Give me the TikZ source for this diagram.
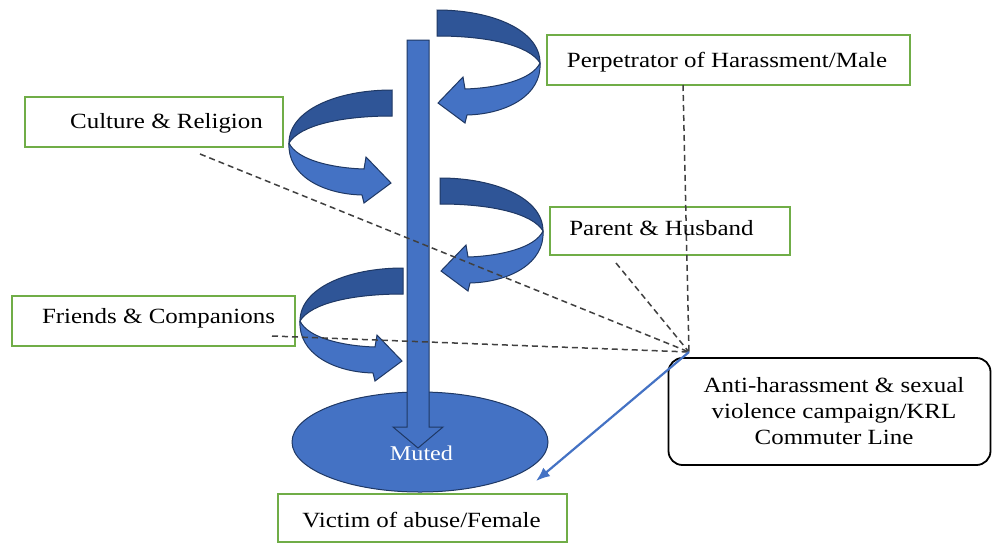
\documentclass[tikz,border=0pt]{standalone}
\usepackage{fontspec}
\setmainfont{Liberation Serif}[FakeStretch=1.15]
\usetikzlibrary{arrows.meta,shapes.geometric}
\definecolor{bblue}{HTML}{4472C4}
\definecolor{dblue}{HTML}{2F5597}
\definecolor{edgeb}{HTML}{1F3864}
\definecolor{gbord}{HTML}{70AD47}
\definecolor{dgray}{HTML}{404040}
\tikzset{
  gbox/.style={draw=gbord, line width=1.8pt, inner sep=0pt},
  rbox/.style={draw=black, line width=1.8pt, rounded corners=14pt, inner sep=0pt},
  lbl/.style={font=\fontsize{21.7pt}{26pt}\selectfont, text=black, inner sep=0pt, anchor=base},
  dline/.style={draw=dgray, line width=1.5pt, dash pattern=on 6pt off 4pt},
  twist/.pic={
    \filldraw[fill=dblue, draw=edgeb, line width=1pt]
      (0,0) .. controls (55,0) and (103,20) .. (103,53)
      .. controls (92,35) and (50,26) .. (0,26) -- cycle;
    \filldraw[fill=bblue, draw=edgeb, line width=1pt, line join=miter]
      (103,53) .. controls (95,70) and (60,78) .. (28,79)
      -- (26,67) -- (1,93) -- (28,113) -- (30,105)
      .. controls (70,104) and (105,85) .. (103,53) -- cycle;
  }
}
\begin{document}
\begin{tikzpicture}[x=1pt,y=-1pt]
\useasboundingbox (0,0) rectangle (992,544);
\fill[white] (0,0) rectangle (992,544);

% curved arrows
\pic at (437,10) {twist};
\pic[xscale=-1] at (392,90) {twist};
\pic at (440,178) {twist};
\pic[xscale=-1] at (403,268) {twist};

% ellipse and main arrow
\node[ellipse, minimum width=256pt, minimum height=100pt, fill=bblue, draw=edgeb, line width=1pt] (muted) at (420,442) {};
\filldraw[fill=bblue, draw=edgeb, line width=1pt, line join=miter]
  (407,40) -- (429,40) -- (429,427) -- (443,427) -- (418,448) -- (393,427) -- (407,427) -- cycle;
\node[lbl, text=white, font=\fontsize{21pt}{26pt}\selectfont] (mutedT) at (421.5,460) {Muted};

% boxes
\node[gbox, minimum width=363pt, minimum height=50pt] (perp) at (728.5,60) {};
\node[lbl] (perpT) at (727,67) {Perpetrator of Harassment/Male};
\node[gbox, minimum width=258pt, minimum height=50pt] (cult) at (154,122) {};
\node[lbl] (cultT) at (166.5,128) {Culture \& Religion};
\node[gbox, minimum width=240pt, minimum height=48pt] (par) at (670,231) {};
\node[lbl] (parT) at (661.5,235) {Parent \& Husband};
\node[gbox, minimum width=283pt, minimum height=50pt] (fri) at (153.5,321) {};
\node[lbl] (friT) at (158.5,323) {Friends \& Companions};
\node[gbox, minimum width=289pt, minimum height=48pt] (vic) at (422.5,518) {};
\node[lbl] (vicT) at (421.5,527) {Victim of abuse/Female};

% dashed lines
\coordinate (hub) at (689,352);
\coordinate (d1) at (683,85);
\coordinate (d2) at (200,154);
\coordinate (d3) at (616,263);
\coordinate (d4) at (272,336);
\draw[dline] (d1) -- (hub);
\draw[dline] (d2) -- (hub);
\draw[dline] (d3) -- (hub);
\draw[dline] (d4) -- (hub);

% campaign box
\node[rbox, minimum width=322pt, minimum height=107pt] (camp) at (829.5,411.5) {};
\node[lbl, anchor=center, align=center] (campT) at (834,411) {Anti-harassment \& sexual\\violence campaign/KRL\\Commuter Line};

\coordinate (vtip) at (536,481);
\draw[bblue, line width=2.2pt, -{Latex[length=14pt,width=11pt]}] (hub) -- (vtip);
\end{tikzpicture}
\end{document}
